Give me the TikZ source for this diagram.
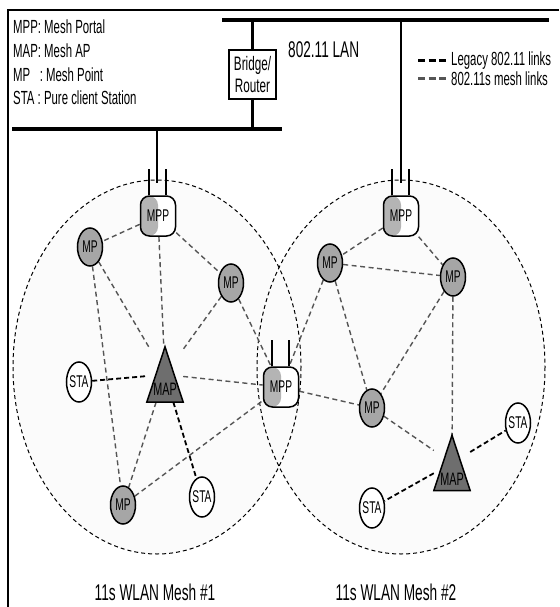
\documentclass[tikz,border=0pt]{standalone}
\usepackage{fontspec}
\setmainfont{Liberation Sans}
\newfontfamily\nf[FakeStretch=0.6]{Liberation Sans}
\usetikzlibrary{shapes.geometric,backgrounds}
\definecolor{mpgray}{HTML}{A6A6A6}
\definecolor{mapgray}{HTML}{6E6E6E}
\definecolor{mppgray}{HTML}{B4B4B4}
\definecolor{meshbg}{HTML}{FBFBFB}
\definecolor{meshln}{HTML}{555555}
\newcommand\myfs[1]{\fontsize{#1}{#1}\selectfont}
\newcommand\nt[1]{\makebox[10pt]{#1}}
\tikzset{
  lbl/.style={inner sep=0pt, font=\nf\myfs{18}},
  mpnode/.style={ellipse, draw, line width=1.5pt, fill=mpgray, minimum width=25pt, minimum height=38pt, inner sep=0pt, font=\nf\myfs{17}},
  stanode/.style={ellipse, draw, line width=1.5pt, fill=white, minimum width=25pt, minimum height=40pt, inner sep=0pt, font=\nf\myfs{17}},
  mppnode/.style={rectangle, rounded corners=9pt, draw, line width=1.5pt, fill=white, minimum width=35pt, minimum height=40pt, inner sep=0pt, font=\nf\myfs{17},
    path picture={\fill[mppgray] (path picture bounding box.south west) rectangle (path picture bounding box.north);}},
  mapbox/.style={rectangle, minimum width=36pt, minimum height=55pt, inner sep=0pt},
  mapshape/.style={fill=mapgray, draw=black, line width=1.5pt, line join=miter},
  ant/.style={line width=2pt},
  lanbar/.style={line width=4.5pt},
  drop/.style={line width=2.5pt},
  mesh/.style={draw=meshln, line width=1.4pt, dash pattern=on 5pt off 3.5pt},
  legacy/.style={draw=black, line width=1.8pt, dash pattern=on 5pt off 3pt},
  cloud/.style={draw=black, line width=1pt, dash pattern=on 4pt off 3pt},
  legtxt/.style={inner sep=0pt, anchor=west, font=\nf\myfs{19}},
  legdash/.style={line width=3pt, dash pattern=on 7pt off 3.5pt}
}
\begin{document}
\begin{tikzpicture}[x=1pt,y=-1pt]
\useasboundingbox (0,0) rectangle (559,607);

% frame
\draw[line width=1.5pt] (559,10) -- (8,10) -- (8,607);

% legend (top left)
\node[legtxt] (l1) at (13,27) {MPP: Mesh Portal};
\node[legtxt] (l2) at (13,51) {MAP: Mesh AP};
\node[legtxt] (l3) at (13,75) {MP\ \ \ : Mesh Point};
\node[legtxt] (l4) at (13,98) {STA : Pure client Station};

% LAN
\coordinate (ua) at (222,20);
\coordinate (ub) at (549,20);
\coordinate (la) at (12,129);
\coordinate (lb) at (282,129);
\draw[lanbar] (ua) -- (ub);
\draw[lanbar] (la) -- (lb);
\node[draw, line width=1.5pt, fill=white, minimum width=47pt, minimum height=49pt, inner sep=0pt, align=center, font=\nf\myfs{19.5}] (br) at (252.5,74.5) {Bridge/\\[2pt]Router};
\coordinate (bru) at (252.5,20);
\coordinate (brl) at (252.5,129);
\draw[drop] (bru) -- (br.north);
\draw[drop] (br.south) -- (brl);
\node[inner sep=0pt, anchor=west, font=\nf\myfs{22.7}] (lan) at (288,50) {802.11 LAN};

% legend (top right)
\coordinate (k1a) at (418,61); \coordinate (k1b) at (447,61);
\coordinate (k2a) at (418,79); \coordinate (k2b) at (447,79);
\draw[legdash, black] (k1a) -- (k1b);
\draw[legdash, meshln] (k2a) -- (k2b);
\node[legtxt] (k1) at (451,61) {Legacy 802.11 links};
\node[legtxt] (k2) at (451,79) {802.11s mesh links};

% nodes
\node[mppnode] (p1) at (158,216) {MPP};
\node[mppnode] (p2) at (401,216) {MPP};
\node[mppnode] (p3) at (281,387) {MPP};

\node[mpnode] (m1) at (90,247) {\nt{MP}};
\node[mpnode] (m2) at (231,283) {\nt{MP}};
\node[mpnode] (m3) at (123,505) {\nt{MP}};
\node[mpnode] (m4) at (330,263) {\nt{MP}};
\node[mpnode] (m5) at (453,277) {\nt{MP}};
\node[mpnode] (m6) at (372,408) {\nt{MP}};

\node[stanode] (s1) at (79,382) {\nt{STA}};
\node[stanode] (s2) at (202,497) {\nt{STA}};
\node[stanode] (s3) at (518,423) {\nt{STA}};
\node[stanode] (s4) at (372,508) {\nt{STA}};

\node[mapbox] (a1) at (165,374.5) {};
\filldraw[mapshape] (a1.south west) -- (a1.north) -- (a1.south east) -- cycle;
\node[lbl] (a1t) at ([yshift=-15pt]a1.center) {MAP};
\node[mapbox] (a2) at (452,463) {};
\filldraw[mapshape] (a2.south west) -- (a2.north) -- (a2.south east) -- cycle;
\node[lbl] (a2t) at ([yshift=-16pt]a2.center) {MAP};

% antennas and LAN drops
\foreach \p in {p1,p2,p3}{
  \draw[ant] ([xshift=-9pt]\p.north) -- ++(0,-26);
  \draw[ant] ([xshift=8pt]\p.north) -- ++(0,-26);
}
\coordinate (d1a) at (157,129); \coordinate (d1b) at (157,183);
\coordinate (d2a) at (401,20);  \coordinate (d2b) at (401,183);
\draw[drop] (d1a) -- (d1b);
\draw[drop] (d2a) -- (d2b);

% bottom labels
\node[inner sep=0pt, font=\nf\myfs{22.8}] (w1) at (155,592) {11s WLAN Mesh \#1};
\node[inner sep=0pt, font=\nf\myfs{22.8}] (w2) at (396,592) {11s WLAN Mesh \#2};

\begin{scope}[on background layer]
  \fill[meshbg] (157,367) ellipse [x radius=144, y radius=187];
  \fill[meshbg] (401,367) ellipse [x radius=144, y radius=187];
  \draw[cloud] (157,367) ellipse [x radius=144, y radius=187];
  \draw[cloud] (401,367) ellipse [x radius=144, y radius=187];
  % mesh links
  \draw[mesh] (p1) -- (m1);
  \draw[mesh] (p1) -- (m2);
  \draw[mesh] (p1) -- (a1);
  \draw[mesh] (m1) -- (a1);
  \draw[mesh] (m1) -- (m3);
  \draw[mesh] (m2) -- (a1);
  \draw[mesh] (m2) -- (p3);
  \draw[mesh] (a1) -- (p3);
  \draw[mesh] (a1) -- (m3);
  \draw[mesh] (m3) -- (p3);
  \draw[mesh] (p2) -- (m4);
  \draw[mesh] (p2) -- (m5);
  \draw[mesh] (m4) -- (m5);
  \draw[mesh] (m4) -- (p3);
  \draw[mesh] (m4) -- (m6);
  \draw[mesh] (m5) -- (m6);
  \draw[mesh] (m5) -- (a2);
  \draw[mesh] (p3) -- (m6);
  \draw[mesh] (m6) -- (a2);
  % legacy links
  \draw[legacy] (s1) -- (a1);
  \draw[legacy] (a1) -- (s2);
  \draw[legacy] (a2) -- (s3);
  \draw[legacy] (a2) -- (s4);
\end{scope}
\end{tikzpicture}
\end{document}
